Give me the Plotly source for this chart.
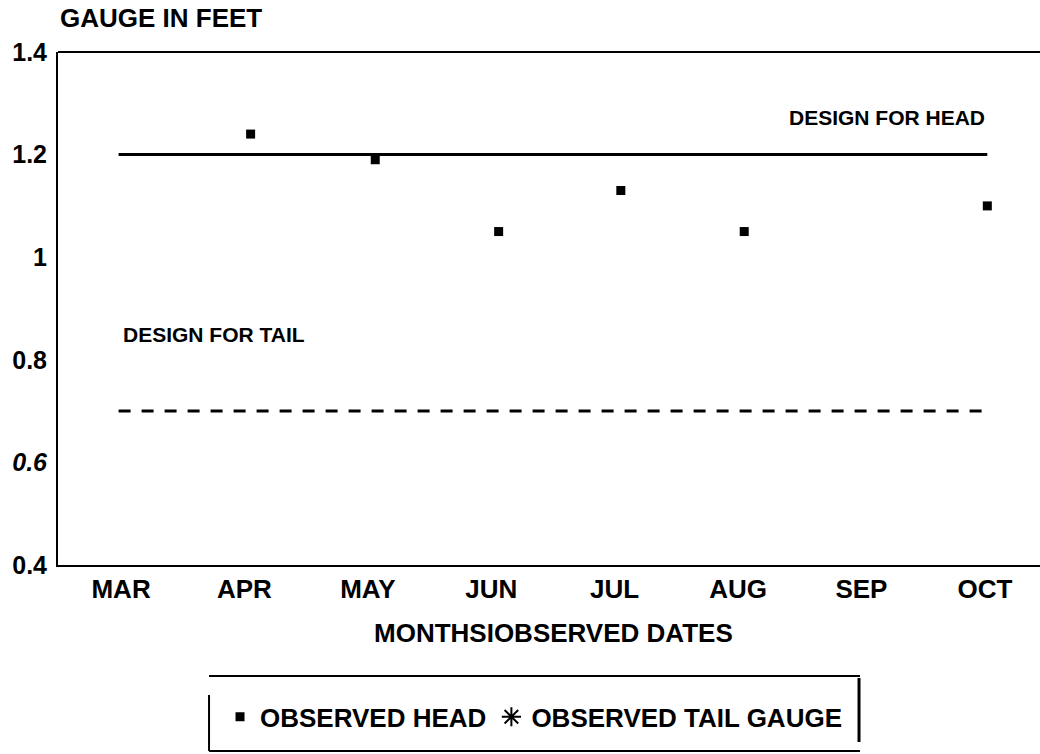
import plotly.graph_objects as go

# ---- data ----
months = ["MAR", "APR", "MAY", "JUN", "JUL", "AUG", "SEP", "OCT"]
month_pos = [0, 1, 2, 3, 4, 5, 6, 7]

# observed head gauge (x in months from MAR, y in feet)
obs_x = [1.05, 2.06, 3.06, 4.05, 5.05, 7.02]
obs_head = [1.24, 1.19, 1.05, 1.13, 1.05, 1.10]

# observed tail gauge: no readings plotted
tail_x = [None]
tail_y = [None]

design_x = [-0.02, 7.02]
design_head = [1.2, 1.2]
design_tail = [0.7, 0.7]

y_ticks = [0.4, 0.6, 0.8, 1.0, 1.2, 1.4]
y_ticktext = ["0.4", "<i>0.6</i>", "0.8", "1", "1.2", "1.4"]

FONT = "Liberation Sans, Arial, sans-serif"

fig = go.Figure()

fig.add_trace(go.Scatter(
    x=design_x, y=design_head, mode="lines",
    line=dict(color="black", width=3), showlegend=False, hoverinfo="skip"))
fig.add_trace(go.Scatter(
    x=design_x, y=design_tail, mode="lines",
    line=dict(color="black", width=3, dash="12px,11px"),
    showlegend=False, hoverinfo="skip"))
fig.add_trace(go.Scatter(
    x=obs_x, y=obs_head, mode="markers", name="OBSERVED HEAD",
    marker=dict(symbol="square", size=9, color="black")))
fig.add_trace(go.Scatter(
    x=tail_x, y=tail_y, mode="markers", name="OBSERVED TAIL GAUGE",
    marker=dict(symbol="asterisk-open", size=16, color="black",
                line=dict(color="black", width=2))))

fig.update_layout(
    width=1040, height=754,
    margin=dict(l=58, r=0, t=52, b=189),
    paper_bgcolor="white", plot_bgcolor="white",
    font=dict(family=FONT, color="black", size=26, weight="bold"),
    showlegend=True,
    legend=dict(
        orientation="h", x=0.165, xanchor="left", y=-0.296, yanchor="middle",
        font=dict(family=FONT, size=26, color="black", weight="bold"),
        bgcolor="rgba(0,0,0,0)", borderwidth=0, itemwidth=30,
    ),
    xaxis=dict(
        range=[-0.511, 7.447], tickmode="array", tickvals=month_pos, ticktext=months,
        showgrid=False, zeroline=False, showline=True, linecolor="black", linewidth=2,
        ticks="", ticklabelstandoff=0,
        tickfont=dict(family=FONT, size=26, color="black", weight="bold"),
    ),
    yaxis=dict(
        range=[0.4, 1.4], tickmode="array", tickvals=y_ticks, ticktext=y_ticktext,
        showgrid=False, zeroline=False, showline=True, linecolor="black", linewidth=2,
        ticks="", ticklabelstandoff=4,
        tickfont=dict(family=FONT, size=25, color="black", weight="bold"),
    ),
)

# top frame line of the plot box
fig.add_shape(type="line", xref="paper", yref="paper", x0=0, x1=1, y0=1, y1=1,
              line=dict(color="black", width=2))

# legend frame (as drawn in the reference)
lx0, lx1 = 0.1538, 0.8167
fig.add_shape(type="line", xref="paper", yref="paper", x0=lx0, x1=lx1, y0=-0.2164, y1=-0.2164,
              line=dict(color="black", width=2))
fig.add_shape(type="line", xref="paper", yref="paper", x0=lx0, x1=lx1, y0=-0.3626, y1=-0.3626,
              line=dict(color="black", width=2))
fig.add_shape(type="line", xref="paper", yref="paper", x0=lx0, x1=lx0, y0=-0.2534, y1=-0.3626,
              line=dict(color="black", width=2))
fig.add_shape(type="line", xref="paper", yref="paper", x0=lx1 - 0.001, x1=lx1 - 0.001,
              y0=-0.2203, y1=-0.3450, line=dict(color="black", width=3))

fig.add_annotation(text="GAUGE IN FEET", xref="paper", yref="paper", x=0.0, y=1.066,
                   xanchor="left", yanchor="middle", showarrow=False,
                   font=dict(family=FONT, size=26, color="black", weight="bold"))
fig.add_annotation(text="MONTHSIOBSERVED DATES", xref="paper", yref="paper", x=0.505, y=-0.1316,
                   xanchor="center", yanchor="middle", showarrow=False,
                   font=dict(family=FONT, size=26, color="black", weight="bold"))
fig.add_annotation(text="DESIGN FOR HEAD", x=design_x[1], y=1.272, xanchor="right",
                   yanchor="middle", showarrow=False,
                   font=dict(family=FONT, size=21, color="black", weight="bold"))
fig.add_annotation(text="DESIGN FOR TAIL", x=0.0, y=0.849, xanchor="left",
                   yanchor="middle", showarrow=False,
                   font=dict(family=FONT, size=21, color="black", weight="bold"))

fig.write_html("out.html", config={"displayModeBar": False},
               post_script="document.body.style.margin='0';document.body.style.padding='0';")
